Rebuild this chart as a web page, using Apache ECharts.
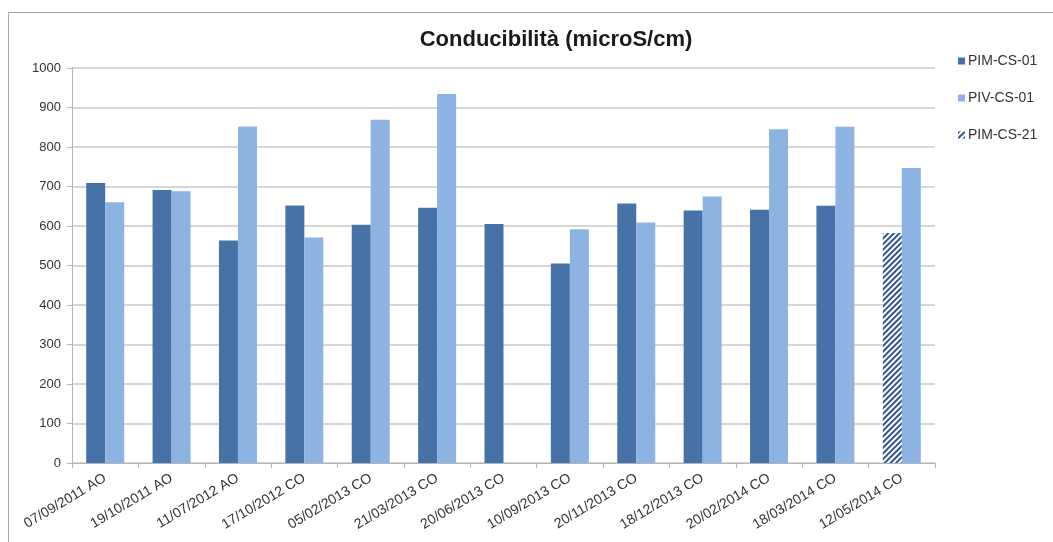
<!DOCTYPE html>
<html>
<head>
<meta charset="utf-8">
<script src="https://cdn.jsdelivr.net/npm/echarts@6/dist/echarts.min.js"></script>
<style>
  html, body { margin: 0; padding: 0; background: #fff; }
  #chart { width: 1053px; height: 542px; }
</style>
</head>
<body>
<div id="chart"></div>
<script>
// Sampling dates (campaign AO / CO)
const categories = [
  '07/09/2011 AO', '19/10/2011 AO', '11/07/2012 AO', '17/10/2012 CO',
  '05/02/2013 CO', '21/03/2013 CO', '20/06/2013 CO', '10/09/2013 CO',
  '20/11/2013 CO', '18/12/2013 CO', '20/02/2014 CO', '18/03/2014 CO',
  '12/05/2014 CO'
];
// Conductivity (microS/cm) per well
const pimCs01 = [709, 691, 563, 652, 603, 646, 605, 505, 657, 639, 641, 651, null];
const pivCs01 = [660, 688, 852, 571, 869, 934, null, 592, 609, 675, 845, 851, 747];
const pimCs21 = [null, null, null, null, null, null, null, null, null, null, null, null, 582];
const yTicks = { min: 0, max: 1000, interval: 100 };

const FONT = '"Liberation Sans", Arial, sans-serif';
const DARK = '#4672a8';
const LIGHT = '#8db3e2';

const chart = echarts.init(document.getElementById('chart'), null, { renderer: 'canvas' });

chart.setOption({
  animation: false,
  backgroundColor: '#ffffff',
  title: {
    text: 'Conducibilità (microS/cm)',
    left: 551,
    top: 24,
    textAlign: 'center',
    textStyle: { fontFamily: FONT, fontSize: 22, fontWeight: 'bold', color: '#1a1a1a' }
  },
  legend: {
    orient: 'vertical',
    left: 953,
    top: 49,
    itemGap: 23,
    itemWidth: 7,
    itemHeight: 7,
    icon: 'rect',
    textStyle: { fontFamily: FONT, fontSize: 14, color: '#333333', padding: [0, 0, 0, -2] },
    data: ['PIM-CS-01', 'PIV-CS-01', 'PIM-CS-21']
  },
  grid: { left: 72, right: 118, top: 68, bottom: 79, containLabel: false },
  xAxis: {
    type: 'category',
    data: categories,
    boundaryGap: true,
    axisLine: { lineStyle: { color: '#b5b5b5', width: 1 } },
    axisTick: { show: true, alignWithLabel: false, length: 5, lineStyle: { color: '#b5b5b5' } },
    axisLabel: {
      rotate: 31,
      interval: 0,
      margin: 14,
      fontFamily: FONT,
      fontSize: 14,
      color: '#333333'
    }
  },
  yAxis: {
    type: 'value',
    min: yTicks.min,
    max: yTicks.max,
    interval: yTicks.interval,
    axisLine: { show: true, lineStyle: { color: '#b5b5b5' } },
    axisTick: { show: true, length: 5, lineStyle: { color: '#b5b5b5' } },
    axisLabel: {
      fontFamily: FONT, fontSize: 13, color: '#333333', margin: 11,
      formatter: (v) => String(v)
    },
    splitLine: { show: true, lineStyle: { color: '#c8c8c8', width: 1.5 } }
  },
  series: [
    {
      name: 'PIM-CS-01',
      type: 'bar',
      stack: 'pim',
      data: pimCs01,
      barWidth: 19,
      barGap: '0%',
      itemStyle: { color: DARK }
    },
    {
      name: 'PIV-CS-01',
      type: 'bar',
      data: pivCs01,
      barWidth: 19,
      barGap: '0%',
      itemStyle: { color: LIGHT }
    },
    {
      name: 'PIM-CS-21',
      type: 'bar',
      stack: 'pim',
      data: pimCs21,
      barWidth: 19,
      barGap: '0%',
      itemStyle: {
        color: '#ffffff',
        decal: {
          symbol: 'rect',
          symbolSize: 1,
          dashArrayX: [1, 0],
          dashArrayY: [2, 2],
          rotation: -Math.PI / 4,
          color: '#2f5592'
        }
      }
    }
  ],
  graphic: [
    { type: 'line', shape: { x1: 8.5, y1: 12.5, x2: 1053, y2: 12.5 }, style: { stroke: '#a6a6a6', lineWidth: 1 } },
    { type: 'line', shape: { x1: 8.5, y1: 12.5, x2: 8.5, y2: 542 }, style: { stroke: '#a6a6a6', lineWidth: 1 } }
  ]
});
</script>
</body>
</html>
